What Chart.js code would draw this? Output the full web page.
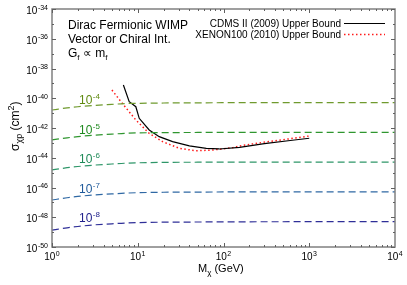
<!DOCTYPE html>
<html><head><meta charset="utf-8">
<script src="https://cdn.jsdelivr.net/npm/chart.js@4/dist/chart.umd.min.js"></script>
<style>html,body{margin:0;padding:0;background:#fff}#wrap{width:407px;height:285px}</style>
</head><body><div id="wrap"><canvas id="c" width="407" height="285"></canvas></div>
<script>
// ---- data ----
const massGrid = [1, 1.5, 2, 3, 5, 7, 10, 20, 50, 100, 1000, 10000];
// log10 sigma for coupling curves
const curve1e4 = [-40.79, -40.65, -40.57, -40.49, -40.41, -40.36, -40.34, -40.32, -40.31, -40.30, -40.30, -40.30];
const curve1e5 = [-42.80, -42.66, -42.58, -42.49, -42.41, -42.36, -42.33, -42.31, -42.30, -42.29, -42.29, -42.29];
const curve1e6 = [-44.82, -44.67, -44.59, -44.50, -44.42, -44.37, -44.34, -44.31, -44.30, -44.29, -44.29, -44.29];
const curve1e7 = [-46.84, -46.69, -46.60, -46.51, -46.43, -46.38, -46.35, -46.32, -46.31, -46.30, -46.30, -46.30];
const curve1e8 = [-48.86, -48.71, -48.62, -48.52, -48.44, -48.39, -48.36, -48.33, -48.32, -48.31, -48.30, -48.30];
const curveLabels = ['-4', '-5', '-6', '-7', '-8'];
const cdmsMass = [6.8, 7.95, 9.5, 10.4, 13.6, 17.8, 25.5, 40, 63, 89, 154, 300, 600, 1000];
const cdmsLog  = [-39.11, -40.23, -40.57, -41.35, -42.13, -42.58, -42.92, -43.20, -43.37, -43.41, -43.30, -43.05, -42.84, -42.69];
const xenonMass = [5.0, 6.6, 9.5, 13.6, 19.5, 30.6, 48, 75, 128, 154, 300, 600, 1000];
const xenonLog  = [-39.45, -40.34, -41.46, -42.36, -42.92, -43.37, -43.53, -43.48, -43.32, -43.21, -42.95, -42.72, -42.54];
const xTickExps = [0, 1, 2, 3, 4];
const yTickExps = [-34, -36, -38, -40, -42, -44, -46, -48, -50];
const legendNames = ['CDMS II (2009) Upper Bound', 'XENON100 (2010) Upper Bound'];
const noteLines = ['Dirac Fermionic WIMP', 'Vector or Chiral Int.'];

const curveColors = ['#6f9a2e', '#2f962f', '#2e9668', '#2f68a4', '#2f2f98'];
const labelColors = ['#5f8a10', '#1f8a1f', '#1f8a58', '#1f5a9a', '#22228c'];
const FONT = '"Liberation Sans", Arial, Helvetica, sans-serif';

function pts(ms, ls) { return ms.map((m, i) => ({x: m, y: Math.pow(10, ls[i])})); }
const curves = [curve1e4, curve1e5, curve1e6, curve1e7, curve1e8];
const datasets = curves.map((c, i) => ({
  data: pts(massGrid, c), borderColor: curveColors[i], borderWidth: 1.2,
  borderDash: [7, 4], pointRadius: 0, tension: 0.4, cubicInterpolationMode: 'monotone'
}));
datasets.push({data: pts(cdmsMass, cdmsLog), borderColor: '#000', borderWidth: 1.2, pointRadius: 0, tension: 0, });
datasets.push({data: pts(xenonMass, xenonLog), borderColor: '#ff1a1a', borderWidth: 1.5, borderDash: [1.5, 2.5], pointRadius: 0, tension: 0});

function supText(ctx, base, exp, x, y, align, size) {
  ctx.font = size + 'px ' + FONT;
  const wb = ctx.measureText(base).width;
  ctx.font = Math.round(size * 0.7) + 'px ' + FONT;
  const we = ctx.measureText(exp).width;
  const w = wb + we + 0.5;
  let x0 = align === 'right' ? x - w : align === 'center' ? x - w / 2 : x;
  ctx.textAlign = 'left'; ctx.textBaseline = 'alphabetic';
  ctx.font = size + 'px ' + FONT; ctx.fillText(base, x0, y);
  ctx.font = Math.round(size * 0.7) + 'px ' + FONT; ctx.fillText(exp, x0 + wb + 0.5, y - size * 0.45);
}

const deco = {
  id: 'deco',
  afterDatasetsDraw(chart) {
    const {ctx, chartArea: a, scales: {x, y}} = chart;
    ctx.save();
    // frame
    ctx.strokeStyle = '#808080'; ctx.lineWidth = 1.5;
    ctx.strokeRect(a.left, a.top, a.right - a.left, a.bottom - a.top);
    // ticks
    ctx.lineWidth = 1; ctx.strokeStyle = '#606060';
    ctx.beginPath();
    for (let e = 0; e < 4; e++) for (let k = 1; k < 10; k++) {
      const px = Math.round(x.getPixelForValue(k * Math.pow(10, e))) + 0.5;
      const L = k === 1 ? 4 : 2;
      ctx.moveTo(px, a.bottom); ctx.lineTo(px, a.bottom - L);
      ctx.moveTo(px, a.top); ctx.lineTo(px, a.top + L);
    }
    for (let e = -50; e <= -34; e++) {
      const py = Math.round(y.getPixelForValue(Math.pow(10, e))) + 0.5;
      const L = e % 2 === 0 ? 4 : 2;
      ctx.moveTo(a.left, py); ctx.lineTo(a.left + L, py);
      ctx.moveTo(a.right, py); ctx.lineTo(a.right - L, py);
    }
    ctx.stroke();
    // tick labels
    ctx.fillStyle = '#000';
    xTickExps.forEach(e => supText(ctx, '10', String(e), x.getPixelForValue(Math.pow(10, e)), a.bottom + 13, 'center', 10));
    yTickExps.forEach(e => supText(ctx, '10', String(e), a.left - 4, y.getPixelForValue(Math.pow(10, e)) + 5, 'right', 10));
    // axis titles
    ctx.font = '11px ' + FONT; ctx.textAlign = 'left'; ctx.textBaseline = 'alphabetic';
    let tx = 198, ty = 272;
    ctx.fillText('M', tx, ty); let w = ctx.measureText('M').width;
    ctx.font = '8px ' + FONT; ctx.fillText('χ', tx + w, ty + 3); let w2 = ctx.measureText('χ').width;
    ctx.font = '11px ' + FONT; ctx.fillText(' (GeV)', tx + w + w2, ty);
    ctx.save(); ctx.translate(19, 151); ctx.rotate(-Math.PI / 2);
    ctx.font = '12px ' + FONT; ctx.fillText('σ', 0, 0); w = ctx.measureText('σ').width;
    ctx.font = '9px ' + FONT; ctx.fillText('χp', w, 3); w2 = ctx.measureText('χp').width;
    ctx.font = '12px ' + FONT; ctx.fillText(' (cm', w + w2, 0); let w3 = ctx.measureText(' (cm').width;
    ctx.font = '9px ' + FONT; ctx.fillText('2', w + w2 + w3, -5); let w4 = ctx.measureText('2').width;
    ctx.font = '12px ' + FONT; ctx.fillText(')', w + w2 + w3 + w4, 0);
    ctx.restore();
    // note text
    ctx.font = '12px ' + FONT;
    ctx.fillText(noteLines[0], 68, 29);
    ctx.fillText(noteLines[1], 68, 43);
    ctx.fillText('G', 68, 57); w = ctx.measureText('G').width;
    ctx.font = '8px ' + FONT; ctx.fillText('f', 68 + w, 60); w2 = ctx.measureText('f').width;
    ctx.font = '12px ' + FONT; ctx.fillText(' ∝ m', 68 + w + w2, 57); w3 = ctx.measureText(' ∝ m').width;
    ctx.font = '8px ' + FONT; ctx.fillText('f', 68 + w + w2 + w3, 60);
    // legend
    ctx.font = '10px ' + FONT; ctx.textAlign = 'right';
    ctx.fillText(legendNames[0], 341, 27);
    ctx.fillText(legendNames[1], 341, 38);
    ctx.textAlign = 'left';
    ctx.strokeStyle = '#000'; ctx.lineWidth = 1.2; ctx.setLineDash([]);
    ctx.beginPath(); ctx.moveTo(344, 23.5); ctx.lineTo(385, 23.5); ctx.stroke();
    ctx.strokeStyle = '#ff1a1a'; ctx.lineWidth = 1.5; ctx.setLineDash([1.5, 2.5]);
    ctx.beginPath(); ctx.moveTo(344, 34.5); ctx.lineTo(385, 34.5); ctx.stroke();
    ctx.setLineDash([]);
    // curve labels
    const labY = [104, 134, 163, 193, 222];
    curveLabels.forEach((s, i) => { ctx.fillStyle = labelColors[i]; supText(ctx, '10', s, 79, labY[i], 'left', 12); });
    ctx.restore();
  }
};

new Chart(document.getElementById('c'), {
  type: 'line',
  data: {datasets},
  options: {
    responsive: false, animation: false, devicePixelRatio: 1,
    layout: {padding: {left: 52, right: 12, top: 9, bottom: 38}},
    plugins: {legend: {display: false}, tooltip: {enabled: false}},
    scales: {
      x: {type: 'logarithmic', display: false, min: 1, max: 10000},
      y: {type: 'logarithmic', display: false, min: 1e-50, max: 1e-34}
    }
  },
  plugins: [deco]
});
</script></body></html>
